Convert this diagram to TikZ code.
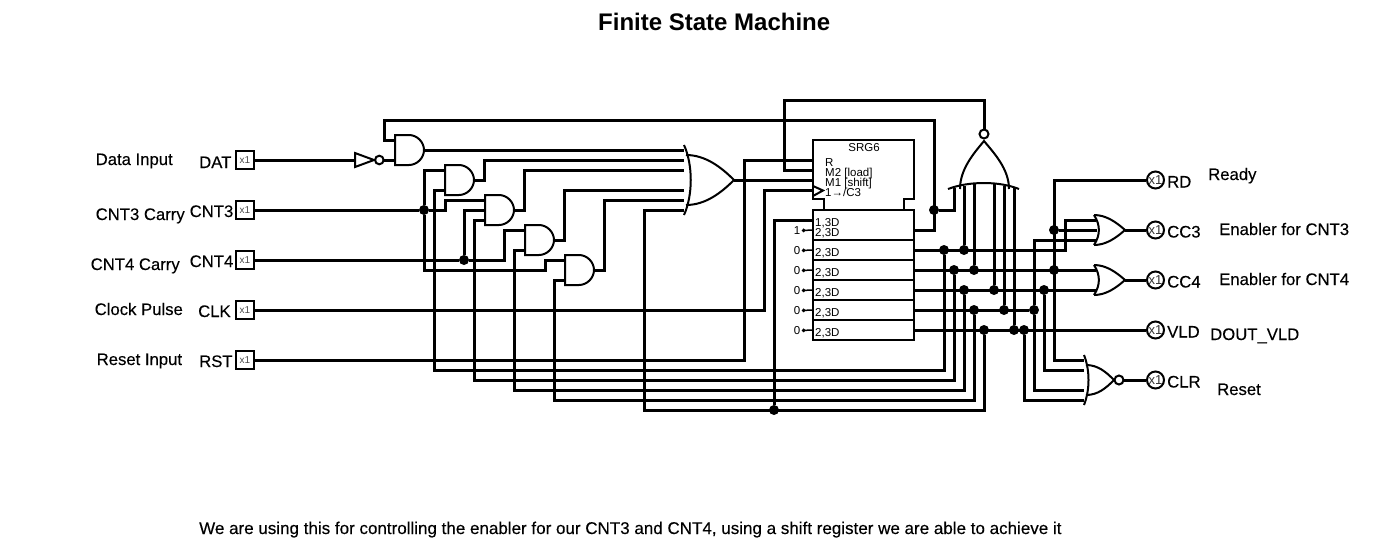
\documentclass[tikz,border=0pt]{standalone}
\usepackage{fontspec}
\setmainfont{Liberation Sans}
\newfontfamily\lblfont{Liberation Sans}[FakeBold=0.25]
\usetikzlibrary{arrows.meta, positioning}
\tikzstyle{wire} = [line width=3pt]
\tikzstyle{gate} = [line width=2pt]
\tikzstyle{jdot} = [circle, fill=black, inner sep=0pt, minimum size=10pt]
\tikzstyle{inbox} = [rectangle, draw, line width=2pt, minimum width=18pt, minimum height=18pt, inner sep=0pt, font=\fontsize{10}{10}\selectfont, text=black!70]
\tikzstyle{outpin} = [circle, draw, line width=2pt, minimum size=17pt, inner sep=0pt, font=\fontsize{13}{13}\selectfont, text=black!80]
\tikzstyle{lbl} = [anchor=base west, inner sep=0pt, font=\lblfont\fontsize{16.7}{16.7}\selectfont]
\tikzstyle{srgtxt} = [anchor=base west, inner sep=0pt, font=\fontsize{11.5}{11.5}\selectfont]
\tikzstyle{srgrow} = [rectangle, draw, line width=2pt, minimum width=101pt, inner sep=0pt]
\tikzstyle{cst} = [inner sep=1.5pt, font=\fontsize{11.5}{11.5}\selectfont]
\tikzstyle{pinwire} = [line width=1.5pt, {Circle[length=3.5pt]}-]
\tikzset{
  andg/.pic={
    \draw[gate] (14,-15) -- (0,-15) -- (0,15) -- (14,15) .. controls (22,15) and (29,8) .. (29,0) .. controls (29,-8) and (22,-15) .. (14,-15);
    \coordinate (-in1) at (0,-10);
    \coordinate (-in2) at (0,0);
    \coordinate (-in3) at (0,10);
    \coordinate (-out) at (29,0);
  },
  inv/.pic={
    \draw[gate] (0,-7) -- (19,0) -- (0,7) -- cycle;
    \draw[gate] (24.3,0) circle (4.3);
    \coordinate (-in) at (0,0);
    \coordinate (-out) at (28.6,0);
  },
  orsix/.pic={
    \draw[gate] (0,-35) .. controls (9,-15) and (9,15) .. (0,35);
    \draw[gate] (2,-25) .. controls (22,-25) and (38,-12) .. (50,0) .. controls (38,12) and (22,25) .. (2,25);
    \foreach \n/\y in {1/-30,2/-20,3/-10,4/10,5/20,6/30} {\coordinate (-in\n) at (0,\y);}
    \coordinate (-out) at (50,0);
  },
  orthree/.pic={
    \draw[gate] (0,-15) .. controls (6.5,-5) and (6.5,5) .. (0,15);
    \draw[gate] (0,-15) .. controls (12,-15) and (22,-8) .. (31,0) .. controls (22,8) and (12,15) .. (0,15);
    \coordinate (-in1) at (1.5,-10);
    \coordinate (-in2) at (3,0);
    \coordinate (-in3) at (1.5,10);
    \coordinate (-out) at (31,0);
  },
  norfour/.pic={
    \draw[gate] (0,-25) .. controls (6,-10) and (6,10) .. (0,25);
    \draw[gate] (2,-15) .. controls (14,-15) and (22,-8) .. (30,0) .. controls (22,8) and (14,15) .. (2,15);
    \draw[gate] (35,0) circle (4.5);
    \foreach \n/\y in {1/-20,2/-10,3/10,4/20} {\coordinate (-in\n) at (0,\y);}
    \coordinate (-out) at (39.5,0);
  },
  norsix/.pic={
    \draw[gate] (-36,0) .. controls (-15,-8) and (15,-8) .. (35,0);
    \draw[gate] (-24,0) .. controls (-24,-20) and (-10,-36) .. (0,-48) .. controls (10,-36) and (25,-20) .. (25,0);
    \draw[gate] (0,-55) circle (4.5);
    \foreach \n/\x/\y in {1/-30/-1,2/-20/-3,3/-10/-5,4/10/-5,5/20/-3,6/30/-1} {\coordinate (-in\n) at (\x,\y);}
    \coordinate (-out) at (0,-59.5);
  }
}
\begin{document}
\begin{tikzpicture}[x=1pt, y=-1pt]
  \useasboundingbox (0,0) rectangle (1374,544);
  \node[anchor=base west, inner sep=0pt, font=\bfseries\fontsize{24}{24}\selectfont] (title) at (598,30) {Finite State Machine};
  \node[lbl, font=\lblfont\fontsize{17}{17}\selectfont] (note) at (199,534) {We are using this for controlling the enabler for our CNT3 and CNT4, using a shift register we are able to achieve it};

  \node[lbl] (ddat) at (95.5,165) {Data Input};
  \node[lbl] (dcnt3) at (95.5,220) {CNT3 Carry};
  \node[lbl] (dcnt4) at (90.5,270) {CNT4 Carry};
  \node[lbl] (dclk) at (94.5,315) {Clock Pulse};
  \node[lbl] (drst) at (96.5,365) {Reset Input};
  \node[lbl] (ldat) at (199,168) {DAT};
  \node[lbl] (lcnt3) at (189.5,217) {CNT3};
  \node[lbl] (lcnt4) at (189.5,267) {CNT4};
  \node[lbl] (lclk) at (198,317) {CLK};
  \node[lbl] (lrst) at (199,367) {RST};
  \node[inbox] (dat) at (245,160) {x1};
  \node[inbox] (cnt3) at (245,210) {x1};
  \node[inbox] (cnt4) at (245,260) {x1};
  \node[inbox] (clk) at (245,310) {x1};
  \node[inbox] (rst) at (245,360) {x1};

  \node[outpin] (rd) at (1155.5,180) {x1};
  \node[outpin] (cc3) at (1155.5,230) {x1};
  \node[outpin] (cc4) at (1155.5,280) {x1};
  \node[outpin] (vld) at (1155.5,330) {x1};
  \node[outpin] (clr) at (1155.5,380) {x1};
  \node[lbl] (lrd) at (1167,187.5) {RD};
  \node[lbl] (lcc3) at (1167,237.5) {CC3};
  \node[lbl] (lcc4) at (1167,287.5) {CC4};
  \node[lbl] (lvld) at (1167,337.5) {VLD};
  \node[lbl] (lclr) at (1167,387.5) {CLR};
  \node[lbl] (drd) at (1208,180) {Ready};
  \node[lbl] (dcc3) at (1219,235) {Enabler for CNT3};
  \node[lbl] (dcc4) at (1219,285) {Enabler for CNT4};
  \node[lbl] (dvld) at (1210,340) {DOUT\_VLD};
  \node[lbl] (dclr) at (1217,395) {Reset};

  \pic (not1) at (355,160) {inv};
  \pic (and1) at (395,150) {andg};
  \pic (and2) at (445,180) {andg};
  \pic (and3) at (485,210) {andg};
  \pic (and4) at (525,240) {andg};
  \pic (and5) at (565,270) {andg};
  \pic (or1) at (684,180) {orsix};
  \pic (nor1) at (984,189) {norsix};
  \pic (or2) at (1094,230) {orthree};
  \pic (or3) at (1094,280) {orthree};
  \pic (nor2) at (1084,380) {norfour};

  \draw[gate] (824,210) -- (824,199) -- (813,199) -- (813,140) -- (914,140) -- (914,199) -- (904,199) -- (904,210);
  \draw[gate] (813,186) -- (823,190.5) -- (813,196);
  \node[srgrow, minimum height=30pt] (row0) at (863.5,225) {};
  \foreach \i/\y in {1/250,2/270,3/290,4/310,5/330} {
    \node[srgrow, minimum height=20pt] (row\i) at (863.5,\y) {};
    \node[srgtxt] (txt\i) at (815,\y+6.5) {2,3D};
    \node[cst] (k\i) at (797,\y+0.5) {0};
    \draw[pinwire] (k\i.east) -- (row\i.west);
  }
  \node[srgtxt, anchor=base] (srgname) at (864,151.5) {SRG6};
  \node[srgtxt] (tr) at (825,166.5) {R};
  \node[srgtxt] (tm2) at (825,176.5) {M2 [load]};
  \node[srgtxt] (tm1) at (825,186.5) {M1 [shift]};
  \node[srgtxt] (tc3) at (825,196.5) {1→/C3};
  \node[srgtxt] (td1) at (815,226.5) {1,3D};
  \node[srgtxt] (td2) at (815,236.5) {2,3D};
  \node[cst] (k0) at (797,230.5) {1};
  \coordinate (srg-r) at (813,160);
  \coordinate (srg-m2) at (813,170);
  \coordinate (srg-m1) at (813,180);
  \coordinate (srg-clk) at (813,190);
  \coordinate (srg-d1) at (813,220);
  \coordinate (srg-d2) at (813,230);
  \coordinate (srg-q1) at (914,230);
  \draw[pinwire] (k0.east) -- (srg-d2);

  \foreach \n/\x/\y in {c3a/424/210, c4a/464/260, fb/934/210, dlow/774/410, q1a/944/250, q1b/964/250, q2a/954/270, q2b/974/270, q3a/964/290, q3b/994/290, q3c/1044/290, q4a/974/310, q4b/1004/310, q4c/1034/310, q5a/984/330, q5b/1014/330, q5c/1024/330, r1/1054/230, r2/1054/270} {
    \node[jdot] (\n) at (\x,\y) {};
  }
  \coordinate (fbtop) at (934,120);
  \coordinate (fbleft) at (384,120);
  \coordinate (modetop) at (984,100);
  \coordinate (bus1) at (944,370);
  \coordinate (bus2) at (954,380);
  \coordinate (bus3) at (964,390);
  \coordinate (bus4) at (974,400);
  \coordinate (bus5) at (984,410);

  \draw[wire] (dat) -- (not1-in);
  \draw[wire] (not1-out) -- (and1-in3);
  \draw[wire] (cnt3) -- (c3a);
  \draw[wire] (and2-in1) -| (c3a);
  \draw[wire] (c3a) -- ++(21,0) |- (and3-in1);
  \draw[wire] (c3a) -- ++(0,60) -- ++(121,0) |- (and5-in1);
  \draw[wire] (cnt4) -- (c4a);
  \draw[wire] (c4a) |- (and3-in2);
  \draw[wire] (c4a) -- ++(40,0) |- (and4-in1);
  \draw[wire] (srg-clk) -- ++(-49,0) |- (clk);
  \draw[wire] (srg-r) -- ++(-69,0) |- (rst);

  \draw[wire] (and1-out) -- (or1-in1);
  \draw[wire] (and2-out) -- ++(10,0) |- (or1-in2);
  \draw[wire] (and3-out) -- ++(10,0) |- (or1-in3);
  \draw[wire] (and4-out) -- ++(10,0) |- (or1-in4);
  \draw[wire] (and5-out) -- ++(10,0) |- (or1-in5);
  \draw[wire] (or1-out) -- (srg-m1);

  \draw[wire] (and2-in3) -- ++(-11,0) |- (bus1) -- (q1a);
  \draw[wire] (and3-in3) -- ++(-11,0) |- (bus2) -- (q2a);
  \draw[wire] (and4-in3) -- ++(-11,0) |- (bus3) -- (q3a);
  \draw[wire] (and5-in3) -- ++(-11,0) |- (bus4) -- (q4a);
  \draw[wire] (or1-in6) -- ++(-40,0) |- (bus5) -- (q5a);
  \draw[wire] (srg-d1) -| (dlow);

  \draw[wire] (srg-q1) -| (fbtop) -- (fbleft) |- (and1-in1);
  \draw[wire] (srg-m2) -- ++(-29,0) |- (modetop) -- (nor1-out);
  \draw[wire] (fb) -| (nor1-in1);
  \draw[wire] (q1b) -- (nor1-in2);
  \draw[wire] (q2b) -- (nor1-in3);
  \draw[wire] (q3b) -- (nor1-in4);
  \draw[wire] (q4b) -- (nor1-in5);
  \draw[wire] (q5b) -- (nor1-in6);

  \draw[wire] (row1.east) -- ++(150,0) |- (or2-in1);
  \draw[wire] (row2.east) -- (or3-in1);
  \draw[wire] (row3.east) -- (or3-in3);
  \draw[wire] (row4.east) -- (q4c);
  \draw[wire] (row5.east) -- (vld);

  \draw[wire] (rd) -- ++(-101.5,0) |- (nor2-in1);
  \draw[wire] (r1) -- (or2-in2);
  \draw[wire] (or2-in3) -| (q4c);
  \draw[wire] (q4c) |- (nor2-in3);
  \draw[wire] (q3c) |- (nor2-in2);
  \draw[wire] (q5c) |- (nor2-in4);

  \draw[wire] (or2-out) -- (cc3);
  \draw[wire] (or3-out) -- (cc4);
  \draw[wire] (nor2-out) -- (clr);
\end{tikzpicture}
\end{document}
